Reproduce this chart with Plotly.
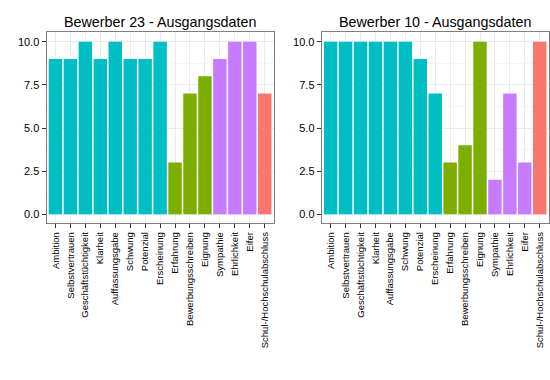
import plotly.graph_objects as go

categories = ["Ambition", "Selbstvertrauen", "Geschäftstüchtigkeit", "Klarheit",
              "Auffassungsgabe", "Schwung", "Potenzial", "Erscheinung", "Erfahrung",
              "Bewerbungsschreiben", "Eignung", "Sympathie", "Ehrlichkeit", "Eifer",
              "Schul-/Hochschulabschluss"]
groups = ["C"] * 8 + ["B"] * 3 + ["D"] * 3 + ["A"]
values_23 = [9, 9, 10, 9, 10, 9, 9, 10, 3, 7, 8, 9, 10, 10, 7]
values_10 = [10, 10, 10, 10, 10, 10, 9, 7, 3, 4, 10, 2, 7, 3, 10]
titles = ["Bewerber 23 - Ausgangsdaten", "Bewerber 10 - Ausgangsdaten"]
y_ticks = [0.0, 2.5, 5.0, 7.5, 10.0]

group_colors = {"A": "#F8766D", "B": "#7CAE00", "C": "#00BFC4", "D": "#C77CFF"}
FONT = "Liberation Sans, Arial, sans-serif"

W, H = 550, 380

fig = go.Figure()
panels = [(values_23, "x", "y"), (values_10, "x2", "y2")]
for vals, xa, ya in panels:
    fig.add_trace(go.Bar(
        x=categories, y=vals, xaxis=xa, yaxis=ya,
        marker=dict(color=[group_colors[g] for g in groups], line=dict(width=0)),
        showlegend=False, hoverinfo="x+y"))

ytop, ybot = 1 - 32.3 / H, 1 - 223.3 / H
doms = [[46.5 / W, 273.7 / W], [321.7 / W, 548.7 / W]]

common_x = dict(type="category", range=[-0.6, 14.6], tickangle=-90,
                showgrid=True, gridcolor="#EBEBEB", gridwidth=1,
                ticks="outside", ticklen=4, tickcolor="#333333", tickwidth=1,
                tickfont=dict(family=FONT, size=9.5, color="#000000"),
                showline=True, linecolor="#7F7F7F", linewidth=1, mirror=True,
                zeroline=False, fixedrange=True, automargin=False)
common_y = dict(range=[-0.52, 10.55], tickmode="array", tickvals=y_ticks,
                ticktext=["%.1f" % v for v in y_ticks],
                showgrid=True, gridcolor="#EBEBEB", gridwidth=1,
                minor=dict(tickmode="array", tickvals=[1.25, 3.75, 6.25, 8.75],
                           showgrid=True, gridcolor="#F7F7F7", gridwidth=1, ticks=""),
                ticks="outside", ticklen=4, tickcolor="#333333", tickwidth=1,
                tickfont=dict(family=FONT, size=11, color="#000000"),
                showline=True, linecolor="#7F7F7F", linewidth=1, mirror=True,
                zeroline=False, fixedrange=True, automargin=False)

fig.update_layout(
    width=W, height=H,
    margin=dict(l=0, r=0, t=0, b=0, autoexpand=False),
    paper_bgcolor="white", plot_bgcolor="white",
    bargap=0.1,
    xaxis=dict(common_x, domain=doms[0], anchor="y"),
    yaxis=dict(common_y, domain=[ybot, ytop], anchor="x"),
    xaxis2=dict(common_x, domain=doms[1], anchor="y2"),
    yaxis2=dict(common_y, domain=[ybot, ytop], anchor="x2"),
    font=dict(family=FONT),
)

for i, t in enumerate(titles):
    fig.add_annotation(text=t, xref="paper", yref="paper",
                       x=(doms[i][0] + doms[i][1]) / 2, y=ytop,
                       xanchor="center", yanchor="bottom", yshift=0,
                       showarrow=False, font=dict(family=FONT, size=14.3, color="#000000"))

fig.write_html("out.html", config={"displayModeBar": False},
               post_script="document.body.style.margin='0';document.body.style.overflow='hidden';")
